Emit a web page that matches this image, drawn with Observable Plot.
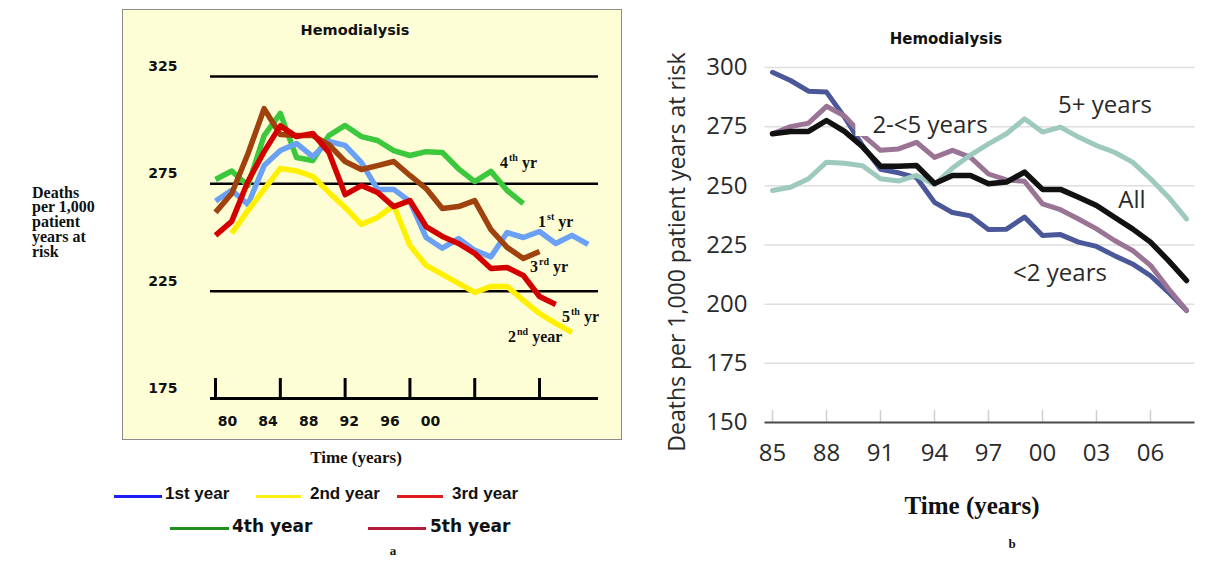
<!DOCTYPE html>
<html>
<head>
<meta charset="utf-8">
<script src="https://cdn.jsdelivr.net/npm/d3@7"></script>
<script src="https://cdn.jsdelivr.net/npm/@observablehq/plot@0.6"></script>
<style>
  html, body { margin: 0; padding: 0; background: #fff; }
  #page { position: relative; width: 1206px; height: 562px; overflow: hidden; background: #fff; }
  .abs { position: absolute; white-space: nowrap; }
  .ctr { transform: translate(-50%, -50%); line-height: 1; }
  .ann { position: absolute; font: bold 16px 'Liberation Serif', serif; line-height: 16px; white-space: nowrap; color: #111; }
  .sup { font-size: 10px; position: relative; top: -7px; margin-left: 1px; }
  .lg { position: absolute; height: 3px; }
  .lbB { position: absolute; transform: translate(-50%, -50%); font: 24px 'Open Sans', sans-serif; line-height: 1; color: #2a2a2a; white-space: nowrap; }
  svg { display: block; }
</style>
</head>
<body>
<div id="page">
  <div id="panelA" class="abs" style="left:122px; top:9px; width:500px; height:431px; outline:1.5px solid #8c8c8c; outline-offset:-1px;"></div>
  <div id="ticksA" class="abs" style="left:122px; top:406px; width:500px; height:30px;"></div>
  <div id="panelB" class="abs" style="left:660px; top:20px; width:546px; height:480px;"></div>
</div>
<script>
// ---------- Panel a data (deaths per 1,000 patient years at risk) ----------
const yearsA = [1980,1981,1982,1983,1984,1985,1986,1987,1988,1989,1990,1991,1992,1993,1994,1995,1996,1997,1998,1999,2000,2001,2002,2003];
const first  = [267, 272, 265.4, 283.5, 290.5, 293.8, 287.7, 294.7, 292.9, 285, 272.4, 272.4, 266.8, 250, 245, 249.5, 244, 241, 252.3, 250, 252.8, 247.2, 251, 246.8]; // 1980-2003
const second = [251.9, 262.6, 272.4, 282.2, 281, 278.5, 271, 264, 256.1, 259.3, 264.9, 246.3, 237, 232.8, 228.6, 224.4, 227.2, 227.2, 220.7, 214.6, 210, 205.8]; // 1981-2002
const third  = [261.7, 270.5, 289, 310, 298, 297.5, 297.5, 293.3, 285.4, 281.7, 283.5, 285.4, 278.9, 272.8, 263.5, 264.4, 267.2, 253.7, 245.4, 240.2, 243.5]; // 1980-2000
const fourth = [277, 281, 274.2, 297.5, 307.8, 287.3, 285.9, 297.5, 302.2, 297, 295.2, 290.5, 288.2, 290, 289.6, 282, 276, 280.8, 271.9, 265.8]; // 1980-1999
const fifth  = [251, 257.5, 276.1, 290, 302, 297, 298.5, 289.6, 270, 274.2, 271, 264.4, 267.2, 255.1, 250.5, 247.2, 242.6, 235.6, 236, 232.3, 222.5, 218.8]; // 1980-2001
const yTicksA = [175, 225, 275, 325];
const gridA = [225, 275, 325];
const xTicksA = [1980, 1984, 1988, 1992, 1996, 2000];
const legendA = ["1st year", "2nd year", "3rd year", "4th year", "5th year"];

// ---------- Panel b data ----------
const yearsB = [1985,1986,1987,1988,1989,1990,1991,1992,1993,1994,1995,1996,1997,1998,1999,2000,2001,2002,2003,2004,2005,2006,2007,2008];
const lt2   = [298, 294.5, 290, 289.6, 279, 267, 257, 255.5, 253.5, 243, 238.7, 237.3, 231.5, 231.7, 236.8, 229, 229.4, 226.2, 224.4, 220.5, 217, 212, 205, 197.3];
const mid   = [272, 275, 276.5, 283.6, 279.5, 271.5, 265, 265.6, 268.4, 262, 265, 262, 255, 252.5, 251.9, 242.4, 239.9, 236, 231.8, 226.9, 222.7, 216.4, 206.5, 197.4];
const all   = [272, 273, 273, 277.6, 273, 266.5, 258.3, 258.3, 258.6, 251, 254.4, 254.4, 250.9, 251.6, 255.8, 248.5, 248.5, 245.2, 241.7, 236.7, 231.8, 226.2, 218.4, 210];
const five  = [248, 249.4, 253, 260, 259.5, 258.5, 253, 252, 254.4, 250.5, 257.5, 263, 267.7, 272, 278.3, 272.7, 274.8, 270.6, 267, 264.2, 260, 253, 245.2, 236];
const yTicksB = [150, 175, 200, 225, 250, 275, 300];
const gridB = [175, 200, 225, 250, 275, 300];
const xTicksB = [1985, 1988, 1991, 1994, 1997, 2000, 2003, 2006];
const seriesNamesB = ["<2 years", "2-<5 years", "5+ years", "All"];

// ---------- build tables ----------
function rows(name, startYear, values, years) {
  const i0 = years.indexOf(startYear);
  return values.map((v, i) => ({series: name, year: years[i0 + i], value: v}));
}
const tA = {
  first: rows("1st", 1980, first, yearsA),
  second: rows("2nd", 1981, second, yearsA),
  third: rows("3rd", 1980, third, yearsA),
  fourth: rows("4th", 1980, fourth, yearsA),
  fifth: rows("5th", 1980, fifth, yearsA)
};
const tB = {
  lt2: rows(seriesNamesB[0], 1985, lt2, yearsB),
  mid: rows(seriesNamesB[1], 1985, mid, yearsB),
  five: rows(seriesNamesB[2], 1985, five, yearsB),
  all: rows(seriesNamesB[3], 1985, all, yearsB)
};
const yy = d => String(d % 100).padStart(2, "0");

// ---------- Panel a ----------
const lineA = (data, color) => Plot.line(data, {x: "year", y: "value", stroke: color, strokeWidth: 5.5, strokeLinejoin: "round", strokeLinecap: "butt"});
const plotA = Plot.plot({
  width: 500, height: 431,
  marginLeft: 88, marginRight: 24, marginTop: 67, marginBottom: 42,
  style: {fontFamily: "'DejaVu Sans', sans-serif", fontSize: "14px", fontWeight: "bold", background: "#fefed6", color: "#111"},
  x: {domain: [1979.69, 2003.64], axis: null},
  y: {domain: [175, 325]},
  marks: [
    Plot.ruleY(gridA, {stroke: "#000", strokeWidth: 2.5}),
    Plot.ruleY([175], {stroke: "#000", strokeWidth: 3}),
    Plot.ruleX(xTicksA, {y1: 175, y2: 184.3, stroke: "#000", strokeWidth: 3}),
    lineA(tA.fourth, "#3cc83c"),
    lineA(tA.first, "#6aa1f4"),
    lineA(tA.third, "#a0420e"),
    lineA(tA.second, "#fff000"),
    lineA(tA.fifth, "#d40000"),
    Plot.axisY({ticks: yTicksA, tickSize: 0, tickPadding: 33, dy: -10, label: null, fontSize: 14, fontWeight: "bold"})
  ]
});
document.getElementById("panelA").appendChild(plotA);

// tick labels of panel a (printed offset from the tick marks in the source)
const ticksA = Plot.plot({
  width: 500, height: 30, margin: 0,
  style: {fontFamily: "'DejaVu Sans', sans-serif", fontSize: "14px", fontWeight: "bold", background: "transparent", color: "#111"},
  x: {domain: [1980, 2000], range: [105, 308], axis: null},
  marks: [Plot.text(xTicksA, {x: d => d, text: yy, frameAnchor: "middle", fontSize: 14, fontWeight: "bold"})]
});
document.getElementById("ticksA").appendChild(ticksA);

// ---------- Panel b ----------
const lineB = (data, color, w) => Plot.line(data, {x: "year", y: "value", stroke: color, strokeWidth: w, strokeLinejoin: "round"});
const plotB = Plot.plot({
  width: 546, height: 480,
  marginLeft: 104.5, marginRight: 11.5, marginTop: 47, marginBottom: 78,
  style: {fontFamily: "'Open Sans', sans-serif", fontSize: "24px", background: "transparent", color: "#2a2a2a"},
  x: {domain: [1984.583, 2008.472]},
  y: {domain: [150, 300]},
  marks: [
    Plot.ruleY(gridB, {stroke: "#dedede", strokeWidth: 1.5}),
    Plot.ruleX(xTicksB, {y1: 150, y2: 155, stroke: "#cfcfcf", strokeWidth: 1.5}),
    Plot.ruleY([150], {stroke: "#4a4a4a", strokeWidth: 2}),
    lineB(tB.lt2, "#4a5799", 5),
    lineB(tB.mid, "#9a7494", 5),
    lineB(tB.five, "#9dc9bf", 5),
    lineB(tB.all, "#111111", 5.5),
    Plot.axisY({ticks: yTicksB, tickSize: 0, tickPadding: 17.5, label: null, fontSize: 24}),
    Plot.axisX({ticks: xTicksB, tickSize: 0, tickPadding: 21, tickFormat: yy, label: null, fontSize: 24})
  ]
});
document.getElementById("panelB").appendChild(plotB);

// ---------- text annotations ----------
const page = document.getElementById("page");
function addHTML(html) { page.insertAdjacentHTML("beforeend", html); }

// panel a texts
addHTML(`<div class="abs ctr" style="left:355px; top:30px; font: bold 14.5px 'DejaVu Sans', sans-serif; color:#111;">Hemodialysis</div>`);
addHTML(`<div class="abs" style="left:32px; top:185.6px; font: bold 16px 'Liberation Serif', serif; line-height:14.8px; color:#111;">Deaths<br>per 1,000<br>patient<br>years at<br>risk</div>`);
addHTML(`<div class="abs ctr" style="left:356px; top:458px; font: bold 17px 'Liberation Serif', serif; color:#111;">Time (years)</div>`);
addHTML(`<div class="abs ctr" style="left:393px; top:551px; font: bold 13px 'Liberation Serif', serif; color:#111;">a</div>`);
addHTML(`<div class="ann" style="left:500px; top:154.6px;">4<span class="sup">th</span>&nbsp;yr</div>`);
addHTML(`<div class="ann" style="left:538px; top:213.6px;">1<span class="sup">st</span>&nbsp;yr</div>`);
addHTML(`<div class="ann" style="left:530px; top:258.6px;">3<span class="sup">rd</span>&nbsp;yr</div>`);
addHTML(`<div class="ann" style="left:562px; top:308.6px;">5<span class="sup">th</span>&nbsp;yr</div>`);
addHTML(`<div class="ann" style="left:508px; top:328.6px;">2<span class="sup">nd</span>&nbsp;year</div>`);

// panel a legend
const legendSpec = [
  {label: legendA[0], color: "#1d1df5", x1: 114, x2: 162, tx: 165, y: 496, ty: 494, font: "bold 17px 'Liberation Sans', sans-serif"},
  {label: legendA[1], color: "#ffee11", x1: 256, x2: 301, tx: 310, y: 496, ty: 494, font: "bold 17px 'Liberation Sans', sans-serif"},
  {label: legendA[2], color: "#e01b1b", x1: 397, x2: 443, tx: 452, y: 496, ty: 494, font: "bold 17px 'Liberation Sans', sans-serif"},
  {label: legendA[3], color: "#1f8f1f", x1: 170, x2: 229, tx: 232, y: 528, ty: 525.5, font: "bold 17px 'DejaVu Sans', sans-serif"},
  {label: legendA[4], color: "#b11a3a", x1: 368, x2: 426, tx: 430, y: 528, ty: 525.5, font: "bold 17px 'DejaVu Sans', sans-serif"}
];
for (const s of legendSpec) {
  addHTML(`<div class="lg" style="left:${s.x1}px; top:${s.y - 1.5}px; width:${s.x2 - s.x1}px; background:${s.color};"></div>`);
  addHTML(`<div class="abs" style="left:${s.tx}px; top:${s.ty}px; transform:translateY(-50%); line-height:1; font:${s.font}; color:#111;">${s.label}</div>`);
}

// panel b texts
addHTML(`<div class="abs ctr" style="left:946px; top:39px; font: bold 15px 'DejaVu Sans', sans-serif; color:#111;">Hemodialysis</div>`);
addHTML(`<div class="abs" style="left:676px; top:252px; transform: translate(-50%, -50%) rotate(-90deg); font: 23px 'Open Sans', sans-serif; line-height:1; color:#2a2a2a;">Deaths per 1,000 patient years at risk</div>`);
addHTML(`<div class="abs ctr" style="left:972px; top:506px; font: bold 25px 'Liberation Serif', serif; color:#111;">Time (years)</div>`);
addHTML(`<div class="abs ctr" style="left:1012px; top:544px; font: bold 13px 'Liberation Serif', serif; color:#111;">b</div>`);
addHTML(`<div class="lbB" style="left:923px; top:124px; background:#fff; padding:0 3px 0 17px;">${seriesNamesB[1]}</div>`);
addHTML(`<div class="lbB" style="left:1105px; top:104px;">${seriesNamesB[2]}</div>`);
addHTML(`<div class="lbB" style="left:1132px; top:199px;">${seriesNamesB[3]}</div>`);
addHTML(`<div class="lbB" style="left:1060px; top:272px;">${seriesNamesB[0]}</div>`);
</script>
</body>
</html>
